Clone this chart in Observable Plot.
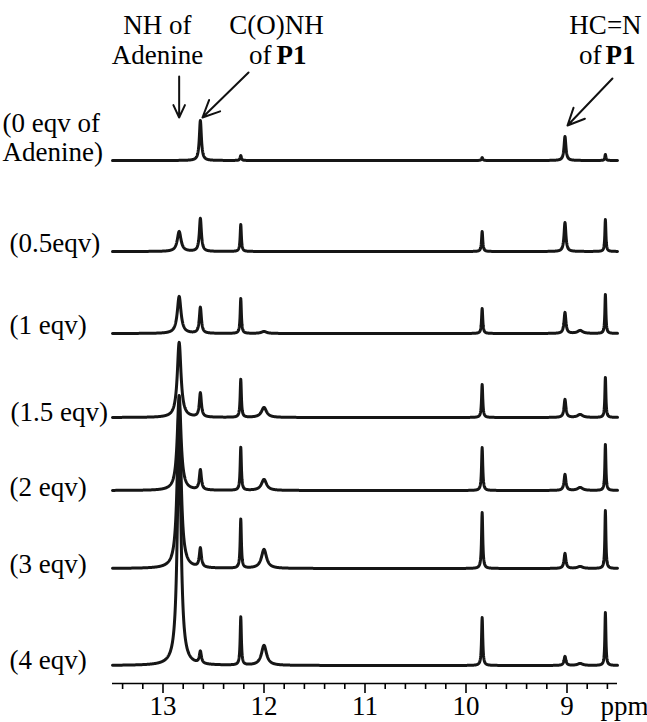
<!DOCTYPE html>
<html>
<head>
<meta charset="utf-8">
<script src="https://cdn.jsdelivr.net/npm/d3@7"></script>
<script src="https://cdn.jsdelivr.net/npm/@observablehq/plot@0.6"></script>
<style>
  html, body { margin: 0; padding: 0; background: #fff; }
  #chart svg { display: block; }
</style>
</head>
<body>
<div id="chart"></div>
<script>
// ---------- DATA ----------
// Trace labels, top to bottom
const traceLabels = ["(0 eqv of\nAdenine)", "(0.5eqv)", "(1 eqv)", "(1.5 eqv)", "(2 eqv)", "(3 eqv)", "(4 eqv)"];
// Peak positions (ppm)
const peakPositions = [12.84, 12.63, 12.23, 12.0, 9.84, 9.02, 8.87, 8.62];
// Peak half-widths at half max (ppm)
const peakWidths = [0.022, 0.012, 0.007, 0.03, 0.007, 0.011, 0.03, 0.006];
// Peak heights (intensity units) per trace, columns follow peakPositions
const heights0 = [0, 40, 5, 0, 3, 24, 0, 6];
const heights05 = [20, 33, 27, 0, 20, 29, 0, 32];
const heights1 = [37, 26, 35, 2, 25, 21, 3, 39];
const heights15 = [75, 24, 38, 10, 33, 18, 3, 40];
const heights2 = [95, 20, 43, 11, 43, 16, 3, 46];
const heights3 = [165, 19, 49, 19, 56, 15, 2, 58];
const heights4 = [235, 12, 48, 20, 48, 9, 2, 53];
const peakHeights = [heights0, heights05, heights1, heights15, heights2, heights3, heights4];
// Axis ticks (ppm)
const majorTicks = [13, 12, 11, 10, 9];
const minorTicks = [13.4, 13.2, 12.8, 12.6, 12.4, 12.2, 11.8, 11.6, 11.4, 11.2,
                    10.8, 10.6, 10.4, 10.2, 9.8, 9.6, 9.4, 9.2, 8.8, 8.6];

// ---------- LAYOUT ----------
const W = 647, H = 722;
const mL = 112, mR = 30, mT = 0, mB = 39;
const yMax = H - mT - mB;               // intensity units == pixels
const traceOffsets = [523, 432, 350, 266, 193, 115, 18];   // stacking offsets
const labelOffsets = [523, 432, 350, 263, 188, 111, 15];
const labelIndent = [-110, -103, -103, -102, -103, -103, -103];
const serif = "'Liberation Serif', 'Times New Roman', serif";
const FS = 27;

// ---------- build spectra (Lorentzian line shapes from peak list) ----------
const grid = d3.range(0, 2501).map(i => 13.5 - i * 0.002);
const spectra = [];
peakHeights.forEach((hs, t) => {
  for (const ppm of grid) {
    let v = traceOffsets[t];
    hs.forEach((h, j) => {
      if (!h) return;
      const u = (ppm - peakPositions[j]) / peakWidths[j];
      v += h / (1 + u * u);
    });
    spectra.push({trace: t, ppm, v});
  }
});

const labels = traceLabels.map((text, i) => ({text, v: labelOffsets[i], dx: labelIndent[i]}));

// annotations (ppm / intensity units)
const annTitles = [
  {x: 13.055, y: 620, text: "NH of\nAdenine"},
  {x: 11.876, y: 650, text: "C(O)NH"},
  {x: 8.619, y: 650, text: "HC=N"}
];
const annOf = [{x: 11.926, y: 620}, {x: 8.658, y: 620}];
const annP1 = [{x: 11.876, y: 620}, {x: 8.619, y: 620}];
const arrows = [
  {x1: 12.84, y1: 607, x2: 12.84, y2: 566},
  {x1: 12.153, y1: 611, x2: 12.609, y2: 566},
  {x1: 8.550, y1: 605, x2: 8.995, y2: 558}
];

const marks = [
  Plot.line(spectra, {x: "ppm", y: "v", z: "trace", stroke: "#161616", strokeWidth: 3, strokeLinejoin: "round"}),
  Plot.ruleY([0], {stroke: "#000", strokeWidth: 1.6}),
  Plot.axisX({ticks: majorTicks, tickSize: 10, tickPadding: 2, strokeWidth: 1.6,
              fontSize: FS, fontFamily: serif, label: null, tickFormat: d => String(d)}),
  Plot.axisX({ticks: minorTicks, tickSize: 6, strokeWidth: 1.6, label: null, tickFormat: () => ""}),
  Plot.text(["ppm"], {frameAnchor: "bottom-right", dx: -17, dy: 31, textAnchor: "start",
                      lineAnchor: "bottom", fontSize: FS, fontFamily: serif, fill: "#000"}),
  Plot.text(annTitles, {x: "x", y: "y", text: "text", textAnchor: "middle", lineAnchor: "bottom",
                        lineHeight: 1.11, fontSize: FS, fontFamily: serif, fill: "#000"}),
  Plot.text(annOf, {x: "x", y: "y", text: () => "of", textAnchor: "end", lineAnchor: "bottom",
                    fontSize: FS, fontFamily: serif, fill: "#000"}),
  Plot.text(annP1, {x: "x", y: "y", text: () => "P1", textAnchor: "start", lineAnchor: "bottom",
                    fontSize: FS, fontWeight: "bold", fontFamily: serif, fill: "#000"}),
  Plot.arrow(arrows, {x1: "x1", y1: "y1", x2: "x2", y2: "y2", stroke: "#111", strokeWidth: 2,
                      headLength: 14, headAngle: 50})
];
labels.forEach(l => marks.push(
  Plot.text([l], {frameAnchor: "left", y: "v", text: "text", dx: l.dx, textAnchor: "start",
                  lineAnchor: "bottom", lineHeight: 1.04, fontSize: FS, fontFamily: serif, fill: "#000"})
));

const chart = Plot.plot({
  width: W, height: H,
  marginLeft: mL, marginRight: mR, marginTop: mT, marginBottom: mB,
  style: {fontFamily: serif, fontSize: FS + "px", color: "#000", background: "#fff", overflow: "visible"},
  x: {domain: [13.5, 8.5], axis: null},
  y: {domain: [0, yMax], axis: null},
  marks
});
document.getElementById("chart").appendChild(chart);
</script>
</body>
</html>
